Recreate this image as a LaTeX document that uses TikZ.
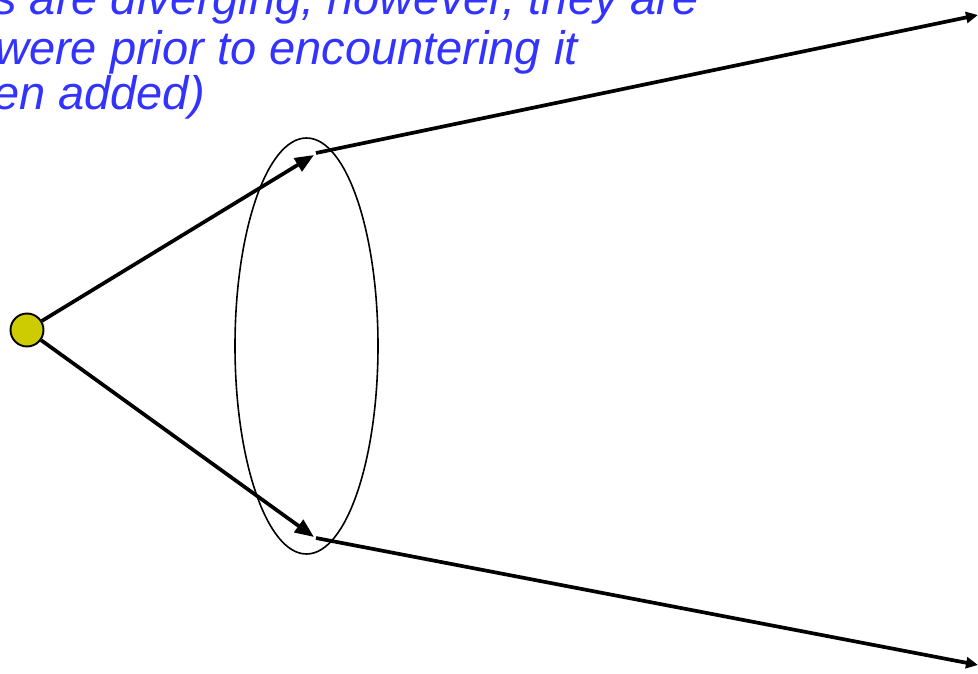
\documentclass[tikz,border=0pt]{standalone}
\usepackage{fontspec}
\setmainfont{Liberation Sans}
\usetikzlibrary{arrows.meta,shapes.geometric}
\definecolor{txtblue}{HTML}{3333FF}
\definecolor{dotyellow}{HTML}{CCCC00}
\begin{document}
\begin{tikzpicture}[x=1pt,y=-1pt,
  ray/.style={line width=3.7pt},
  bigtip/.style={-{Triangle[length=19pt,width=15pt]}},
  smalltip/.style={-{Triangle[length=12pt,width=11pt]}},
  caption/.style={anchor=base east, text=txtblue, inner sep=0pt,
    font=\fontsize{47}{50}\selectfont\itshape}]
\useasboundingbox (0,0) rectangle (978,674);
\node[caption] (t1) at (699,15) {s are diverging, however, they are};
\node[caption] (t2) at (578,65) {were prior to encountering it};
\node[caption] (t3) at (205,110) {en added)};
\node[draw, ellipse, line width=1.6pt, minimum width=143pt, minimum height=416pt, inner sep=0pt] (lens) at (306.5,346) {};
\node[circle, draw, line width=1.9pt, fill=dotyellow, minimum size=33pt, inner sep=0pt] (src) at (27,330) {};
\coordinate (u1) at (314,155);
\coordinate (u2) at (316,153);
\coordinate (ue) at (978,15);
\coordinate (l1) at (314,537);
\coordinate (l2) at (316,538);
\coordinate (le) at (978,665);
\draw[ray, bigtip] (src) -- (u1);
\draw[ray, bigtip] (src) -- (l1);
\draw[ray, smalltip] (u2) -- (ue);
\draw[ray, smalltip] (l2) -- (le);
\end{tikzpicture}
\end{document}
